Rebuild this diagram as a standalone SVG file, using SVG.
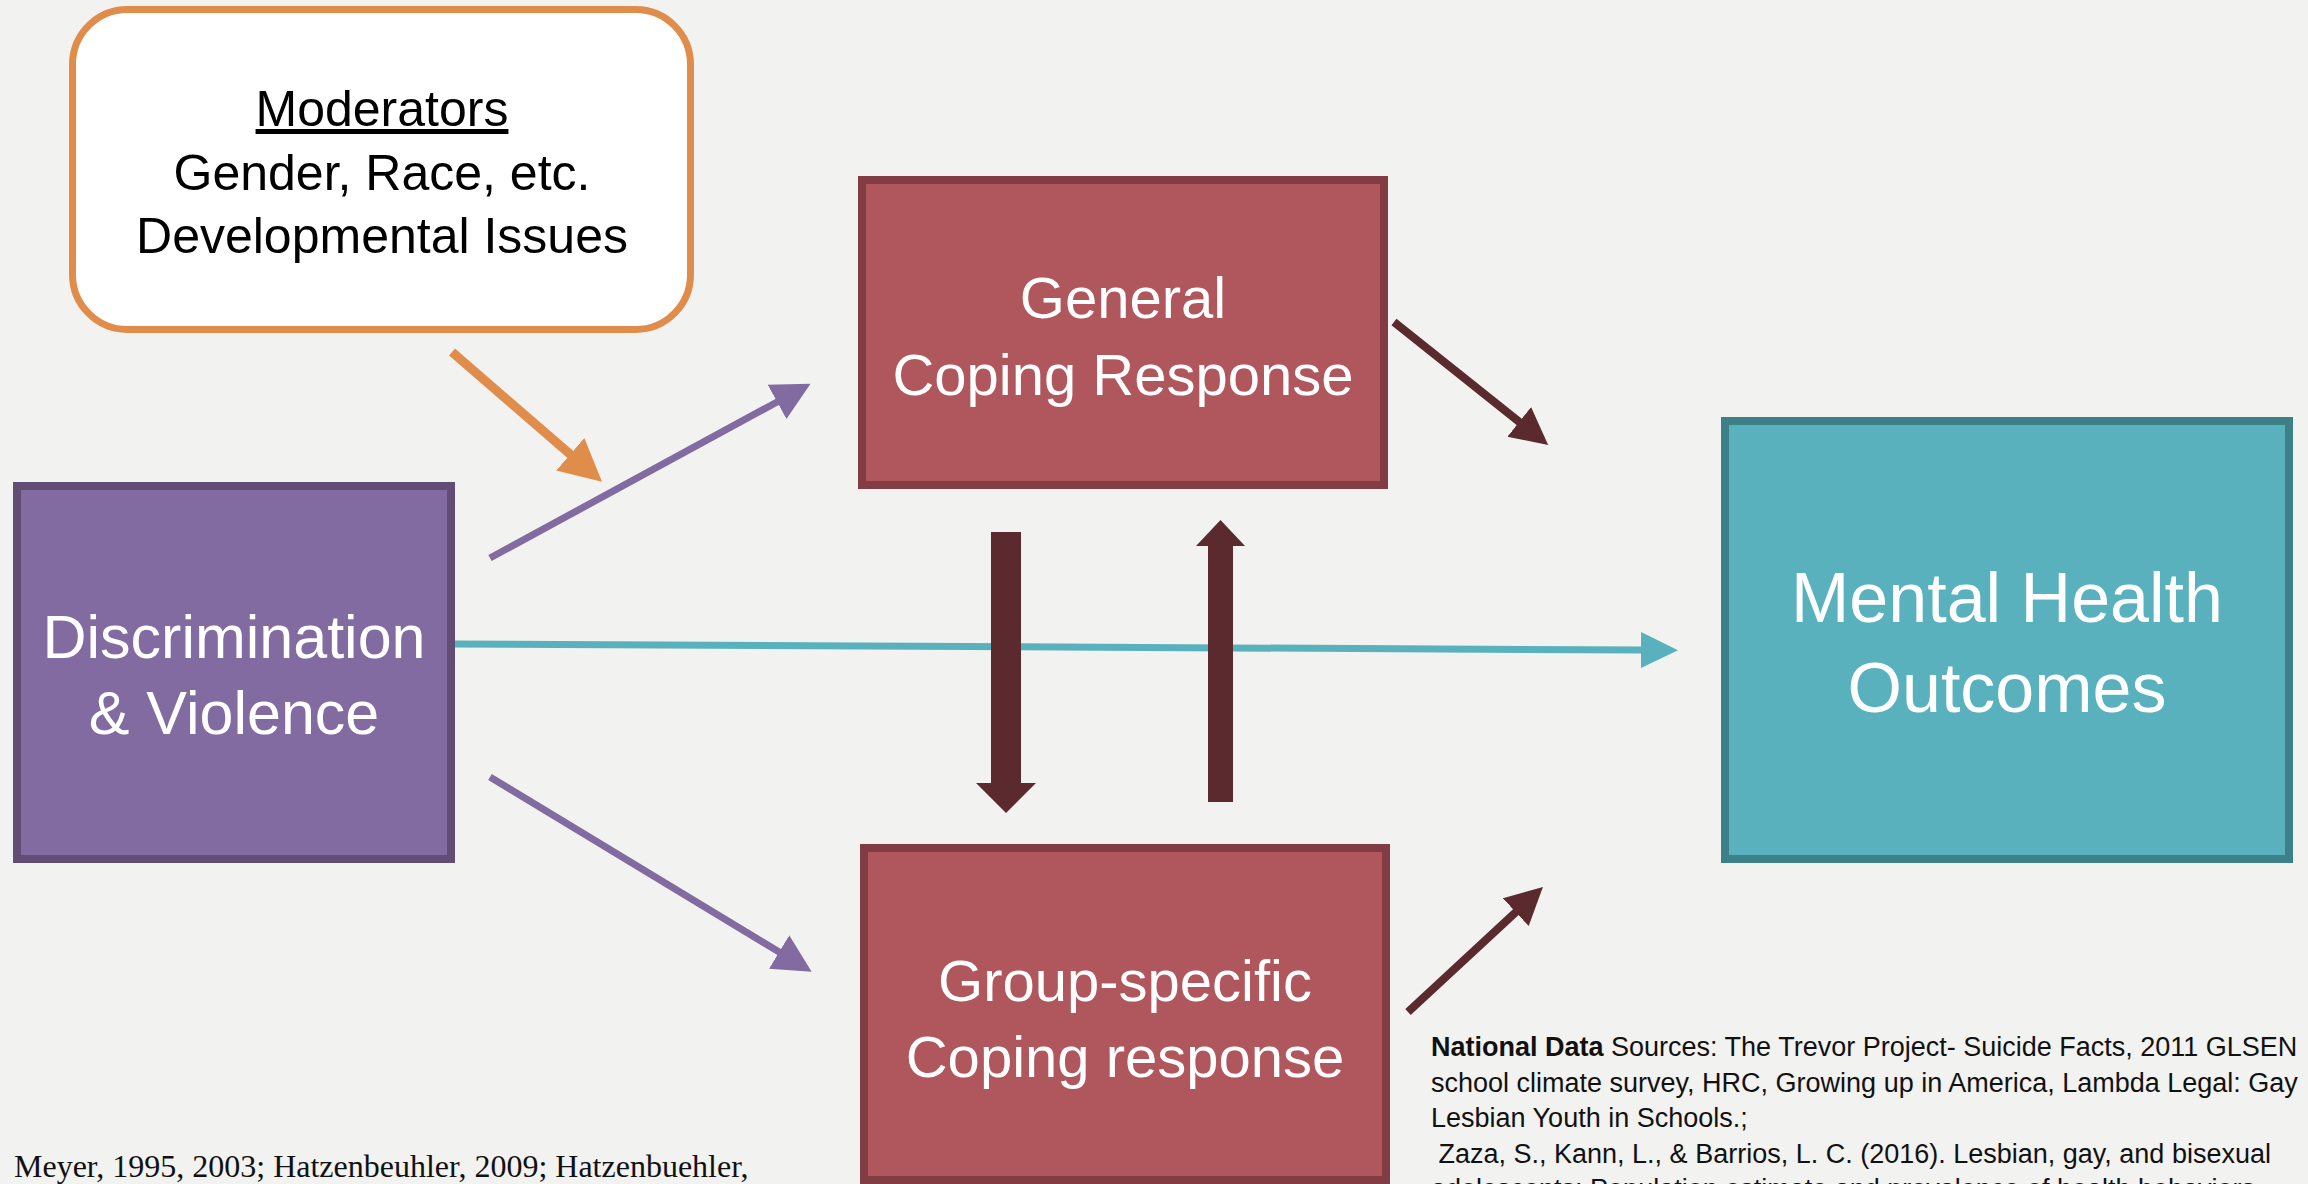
<svg xmlns="http://www.w3.org/2000/svg" width="2308" height="1184" viewBox="0 0 2308 1184">
<style>
.node-text{font-family:"Liberation Sans",Arial,sans-serif;text-anchor:middle;fill:#ffffff}
.mod-text{font-family:"Liberation Sans",Arial,sans-serif;text-anchor:middle;fill:#000000;font-size:50px}
.src{font-family:"Liberation Sans",Arial,sans-serif;font-size:27px;fill:#111111}
.cite{font-family:"Liberation Serif","Times New Roman",serif;font-size:32px;fill:#111111}
.c-orange{stroke:#E08C4A;stroke-width:9;fill:none}
.c-purple{stroke:#826BA0;stroke-width:7;fill:none}
.c-teal{stroke:#58B1BC;stroke-width:7;fill:none}
.c-dark{stroke:#5A2A2E;stroke-width:8;fill:none}
</style>
<defs>
<marker id="m-orange" markerUnits="userSpaceOnUse" markerWidth="44" markerHeight="44" viewBox="0 0 44 44" refX="1" refY="21.5" orient="auto"><path d="M0,0 L42,21.5 L0,43 z" fill="#E08C4A"/></marker>
<marker id="m-purple" markerUnits="userSpaceOnUse" markerWidth="40" markerHeight="40" viewBox="0 0 40 40" refX="1" refY="19.5" orient="auto"><path d="M0,0 L38,19.5 L0,39 z" fill="#826BA0"/></marker>
<marker id="m-teal" markerUnits="userSpaceOnUse" markerWidth="40" markerHeight="40" viewBox="0 0 40 40" refX="1" refY="18" orient="auto"><path d="M0,0 L37,18 L0,36 z" fill="#58B1BC"/></marker>
<marker id="m-dark" markerUnits="userSpaceOnUse" markerWidth="40" markerHeight="40" viewBox="0 0 40 40" refX="1" refY="19" orient="auto"><path d="M0,0 L37,19 L0,38 z" fill="#5A2A2E"/></marker>
</defs>
<rect x="0" y="0" width="2308" height="1184" fill="#F2F2F0"/>

<g id="connectors">
<line class="c-orange" x1="452" y1="352" x2="571" y2="455" marker-end="url(#m-orange)"/>
<line class="c-purple" x1="490" y1="558" x2="778" y2="401.5" marker-end="url(#m-purple)"/>
<line class="c-purple" x1="490" y1="777" x2="780" y2="952.5" marker-end="url(#m-purple)"/>
<line class="c-teal" x1="455" y1="644" x2="1642" y2="650" marker-end="url(#m-teal)"/>
<line class="c-dark" x1="1394" y1="322" x2="1520" y2="422.5" marker-end="url(#m-dark)"/>
<line class="c-dark" x1="1408" y1="1012" x2="1516.5" y2="911.5" marker-end="url(#m-dark)"/>
<polygon fill="#5A2A2E" points="991,532 1021,532 1021,783 1036,783 1006,813 976,783 991,783"/>
<polygon fill="#5A2A2E" points="1208,802 1233,802 1233,546 1245,546 1220.5,520 1196,546 1208,546"/>
</g>

<g id="moderators">
<rect x="72.5" y="9.5" width="618" height="320" rx="55" ry="55" fill="#ffffff" stroke="#E08C4A" stroke-width="7"/>
<text class="mod-text" x="382" y="126" text-decoration="underline">Moderators</text>
<text class="mod-text" x="382" y="190">Gender, Race, etc.</text>
<text class="mod-text" x="382" y="253">Developmental Issues</text>
</g>

<g id="discrimination">
<rect x="17" y="486" width="434" height="373" fill="#826BA0" stroke="#624E75" stroke-width="8"/>
<text class="node-text" x="234" y="658" font-size="61">Discrimination</text>
<text class="node-text" x="234" y="734" font-size="61">&amp; Violence</text>
</g>

<g id="general-coping">
<rect x="862" y="180" width="522" height="305" fill="#AF575C" stroke="#823C43" stroke-width="8"/>
<text class="node-text" x="1123" y="318" font-size="58">General</text>
<text class="node-text" x="1123" y="395" font-size="58">Coping Response</text>
</g>

<g id="group-coping">
<rect x="864" y="848" width="522" height="332" fill="#AF575C" stroke="#823C43" stroke-width="8"/>
<text class="node-text" x="1125" y="1001" font-size="58">Group-specific</text>
<text class="node-text" x="1125" y="1077" font-size="58">Coping response</text>
</g>

<g id="mental-health">
<rect x="1725" y="421" width="564" height="438" fill="#58B1BC" stroke="#3E8088" stroke-width="8"/>
<text class="node-text" x="2007" y="622" font-size="70">Mental Health</text>
<text class="node-text" x="2007" y="712" font-size="70">Outcomes</text>
</g>

<g id="citation">
<text class="cite" x="14" y="1177">Meyer, 1995, 2003; Hatzenbeuhler, 2009; Hatzenbuehler,</text>
</g>

<g id="sources">
<text class="src" x="1431" y="1056"><tspan font-weight="bold">National Data</tspan> Sources: The Trevor Project- Suicide Facts, 2011 GLSEN</text>
<text class="src" x="1431" y="1092">school climate survey, HRC, Growing up in America, Lambda Legal: Gay</text>
<text class="src" x="1431" y="1127">Lesbian Youth in Schools.;</text>
<text class="src" x="1431" y="1163" xml:space="preserve"> Zaza, S., Kann, L., &amp; Barrios, L. C. (2016). Lesbian, gay, and bisexual</text>
<text class="src" x="1431" y="1198">adolescents: Population estimate and prevalence of health behaviors</text>
</g>
</svg>
